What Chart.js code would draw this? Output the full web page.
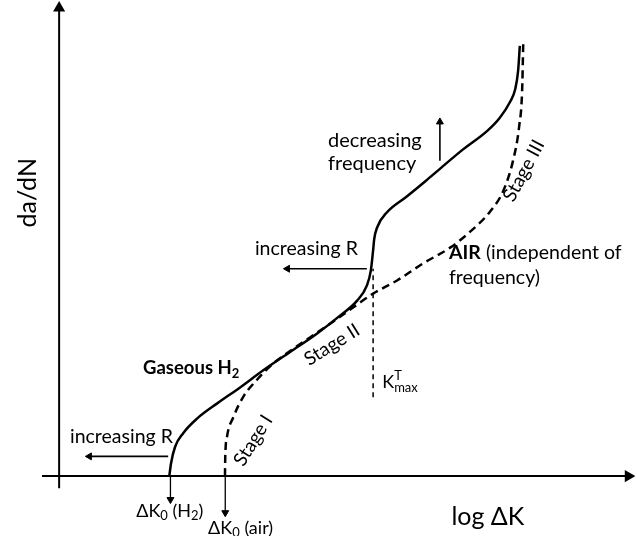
<!DOCTYPE html>
<html>
<head>
<meta charset="utf-8">
<script src="https://cdn.jsdelivr.net/npm/chart.js@4.4.1/dist/chart.umd.min.js"></script>
<style>
    html, body { margin: 0; padding: 0; background: #fff; }
    #wrap { width: 637px; height: 536px; }
</style>
</head>
<body>
<div id="wrap"><canvas id="crackChart"></canvas></div>
<script>
// schematic values, x = log dK, y = da/dN (arbitrary units)
const h2LogK = [1.93, 1.96, 2.03, 2.17, 2.42, 2.77, 3.17, 3.57, 4.04, 4.52, 4.92, 5.22, 5.39, 5.46, 5.50, 5.52, 5.57, 5.74, 6.09, 6.41, 6.67, 7.07, 7.50, 7.72, 7.90, 7.99, 8.04, 8.07];
const h2Rate = [0.00, 0.27, 0.62, 0.91, 1.23, 1.55, 1.89, 2.25, 2.64, 3.04, 3.42, 3.74, 4.06, 4.38, 4.81, 5.06, 5.30, 5.62, 5.96, 6.28, 6.55, 6.96, 7.36, 7.64, 7.98, 8.25, 8.64, 9.17];

const airLogK = [2.905, 2.91, 2.94, 3.05, 3.22, 3.47, 3.73, 4.04, 4.40, 4.83, 5.18, 5.50, 5.92, 6.37, 6.85, 7.20, 7.55, 7.78, 7.95, 8.06, 8.11, 8.13];
const airRate = [0.00, 0.40, 0.83, 1.25, 1.68, 2.06, 2.38, 2.66, 2.96, 3.32, 3.62, 3.89, 4.17, 4.53, 4.87, 5.21, 5.64, 6.08, 6.72, 7.47, 8.21, 9.23];

const kMaxLogK = [5.50, 5.50];
const kMaxRate = [1.68, 4.42];

const axisX = { x: [-0.3, 9.97], y: [0, 0] };
const axisY = { x: [0, 0], y: [-0.26, 9.98] };

// arrows: [x0, x1], [y0, y1], head at the second point
const arrowRLow = { x: [1.91, 0.53], y: [0.42, 0.42], rot: -90 };
const arrowRHigh = { x: [5.39, 4.00], y: [4.42, 4.42], rot: -90 };
const arrowFreq = { x: [6.67, 6.67], y: [6.72, 7.55], rot: 0 };
const arrowK0H2 = { x: [1.95, 1.95], y: [0, -0.50], rot: 180 };
const arrowK0Air = { x: [2.91, 2.91], y: [0, -0.78], rot: 180 };

function pts(xs, ys) {
    return xs.map((v, i) => ({ x: v, y: ys[i] }));
}

function lineSet(xs, ys, opts) {
    return Object.assign({
        data: pts(xs, ys),
        showLine: true,
        borderColor: '#000',
        backgroundColor: '#000',
        borderWidth: 2.5,
        pointRadius: 0,
        tension: 0,
        clip: false
    }, opts || {});
}

function arrowSet(a, width) {
    return lineSet(a.x, a.y, {
        borderWidth: width || 1.6,
        pointStyle: 'triangle',
        pointRadius: [0, 4],
        pointRotation: [0, a.rot],
        pointBorderWidth: 1
    });
}

const labels = [
    { at: [-0.55, 6.04], parts: [{ t: 'da/dN' }], size: 25, rot: -90, align: 'center' },
    { at: [7.51, -0.87], parts: [{ t: 'log \u0394K' }], size: 25, align: 'center' },
    { at: [1.35, -0.74], parts: [{ t: '\u0394K' }, { t: '0', sub: true }, { t: ' (H' }, { t: '2', sub: true }, { t: ')' }], size: 18 },
    { at: [2.61, -1.10], parts: [{ t: '\u0394K' }, { t: '0', sub: true }, { t: ' (air)' }], size: 18 },
    { at: [0.19, 0.83], parts: [{ t: 'increasing R' }], size: 19.5 },
    { at: [3.43, 4.85], parts: [{ t: 'increasing R' }], size: 19.5 },
    { at: [4.71, 7.15], parts: [{ t: 'decreasing' }], size: 20 },
    { at: [4.71, 6.66], parts: [{ t: 'frequency' }], size: 20 },
    { at: [6.83, 4.77], parts: [{ t: 'AIR', bold: true }, { t: ' (independent of' }], size: 19.5 },
    { at: [6.83, 4.23], parts: [{ t: 'frequency)' }], size: 19.5 },
    { at: [1.47, 2.30], parts: [{ t: 'Gaseous H', bold: true }, { t: '2', sub: true, bold: true }], size: 18.5 },
    { at: [3.40, 0.76], parts: [{ t: 'Stage I' }], size: 19, rot: -58, align: 'center' },
    { at: [4.78, 2.80], parts: [{ t: 'Stage II' }], size: 19, rot: -32, align: 'center' },
    { at: [8.14, 6.51], parts: [{ t: 'Stage III' }], size: 19, rot: -62, align: 'center' },
    { at: [5.66, 2.00], parts: [{ t: 'K' }, { t: 'T', sup: true }, { t: 'max', sub: true }], size: 18 }
];

const fontName = 'Lato, "Open Sans", sans-serif';

function partFont(p, size) {
    const s = (p.sub || p.sup) ? Math.round(size * 0.7) : size;
    return (p.bold ? 'bold ' : '') + s + 'px ' + fontName;
}

const textPlugin = {
    id: 'textPlugin',
    afterDatasetsDraw(chart) {
        const ctx = chart.ctx;
        const sx = chart.scales.x, sy = chart.scales.y;
        labels.forEach(l => {
            const px = sx.getPixelForValue(l.at[0]);
            const py = sy.getPixelForValue(l.at[1]);
            ctx.save();
            ctx.fillStyle = '#000';
            ctx.textBaseline = 'middle';
            ctx.translate(px, py);
            if (l.rot) ctx.rotate(l.rot * Math.PI / 180);
            let total = 0;
            l.parts.forEach(p => {
                ctx.font = partFont(p, l.size);
                total += ctx.measureText(p.t).width;
            });
            let cx = l.align === 'center' ? -total / 2 : 0;
            let lastSup = null;
            l.parts.forEach(p => {
                ctx.font = partFont(p, l.size);
                let dy = 0;
                if (p.sub) dy = l.size * 0.3;
                if (p.sup) dy = -l.size * 0.35;
                const w = ctx.measureText(p.t).width;
                // subscript right after a superscript sits under it
                if (p.sub && lastSup !== null) cx = lastSup;
                ctx.fillText(p.t, cx, dy);
                lastSup = p.sup ? cx : null;
                cx += w;
            });
            ctx.restore();
        });
    }
};

const config = {
    type: 'scatter',
    data: {
        datasets: [
            lineSet(axisX.x, axisX.y, { borderWidth: 2, pointStyle: 'triangle', pointRadius: [0, 5], pointRotation: [0, 90] }),
            lineSet(axisY.x, axisY.y, { borderWidth: 2, pointStyle: 'triangle', pointRadius: [0, 5], pointRotation: [0, 0] }),
            lineSet(kMaxLogK, kMaxRate, { borderWidth: 1.5, borderDash: [5, 4] }),
            lineSet(airLogK, airRate, { borderWidth: 2.5, borderDash: [8, 5], cubicInterpolationMode: 'monotone' }),
            lineSet(h2LogK, h2Rate, { borderWidth: 2.5, cubicInterpolationMode: 'monotone' }),
            arrowSet(arrowRLow),
            arrowSet(arrowRHigh),
            arrowSet(arrowFreq),
            arrowSet(arrowK0H2, 1.3),
            arrowSet(arrowK0Air, 1.3)
        ]
    },
    options: {
        responsive: false,
        animation: false,
        layout: {
            padding: { left: 42, right: 7, top: 6, bottom: 13 }
        },
        plugins: {
            legend: { display: false },
            tooltip: { enabled: false }
        },
        scales: {
            x: { type: 'linear', min: -0.3, max: 10, display: false },
            y: { type: 'linear', min: -1, max: 10, display: false }
        }
    },
    plugins: [textPlugin]
};

const canvas = document.getElementById('crackChart');
canvas.width = 637;
canvas.height = 536;
const crackChart = new Chart(canvas.getContext('2d'), config);
</script>
</body>
</html>
